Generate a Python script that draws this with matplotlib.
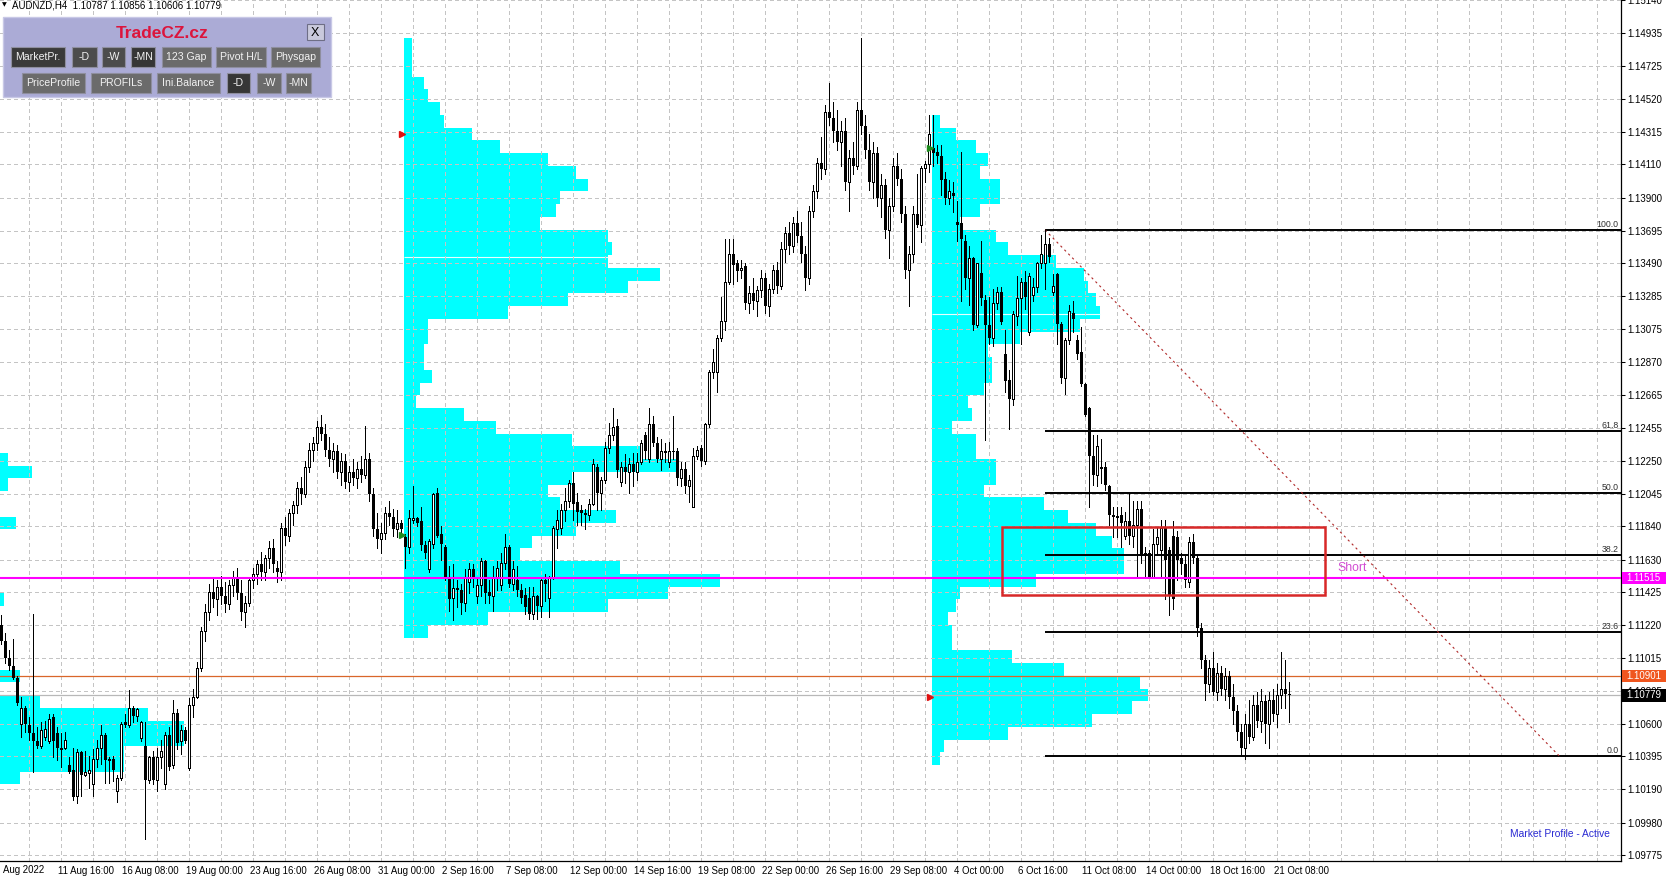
import numpy as np
import matplotlib
matplotlib.use("Agg")
import matplotlib.pyplot as plt
from matplotlib.patches import Rectangle
import matplotlib.transforms as mtransforms

plt.rcParams['font.family'] = ['Liberation Sans', 'DejaVu Sans']

# ---------------- data (prices in 1e-4 units), H4 bars, index 0 = 9 Aug 04:00 ----------------
opens = [
 11122,11112,11101,11096,11089,11060,11070,11059,11054,11049, 11046,11052,11049,11064,11054,11044,11045,11034,11031,11015,
 11042,11028,11029,11022,11038,11045,11053,11037,11038,11018, 11026,11061,11059,11070,11065,11051,11046,11025,11039,11025,
 11039,11022,11053,11034,11067,11049,11056,11032,11072,11077,
 11095,11118,11130,11143,11138,11146,11140,11135,11147,11152, 11142,11130,11136,11150,11154,11160,11155,11164,11170,11158,
 11155,11183,11178,11192,11197,11208,11204,11221,11232,11236, 11246,11242,11232,11226,11231,11218,11225,11212,11218,11214,
 11220,11216,11226,11204,11182,11176,11180,11192,11190,
 11182,11186,11177,11171,11188,11189,11187,11172,11157,11173, 11205,11179,11171,11152,11139,11145,11144,11136,11149,11157,
 11140,11147,11162,11143,11140,11152,11147,11161,11171,11148, 11150,11144,11141,11139,11129,11140,11134,11150,11139,11152,
 11182,11183,11194,11200,11211,11199,11194,11192,11191,11198, 11221,11205,11213,11233,11241,11247,11212,11221,11218,11223,
 11218,11224,11241,11226,11248,11236,11226,11231,11224,11231, 11231,11214,11220,11209,11196,11228,11233,11225,11248,11281,
 11281,11302,11313,11337,11355,11349,11345,11347,
 11324,11330,11325,11332,11340,11322,11333,11345,11335,11358, 11368,11360,11374,11366,11355,11340,11382,11394,11412,11408,
 11444,11440,11432,11425,11432,11400,11415,11410,11445,11435, 11420,11400,11418,11390,11398,11370,11385,11410,11402,11380,
 11345,11355,11380,
 11373,11409,11411,11421,11419,11416,11402,11390,11393,11375, 11374,11363,11340,11352,11310,11343,11326,11310,11302,11324,
 11331,11292,11276,11264,11316,11327,11337,11306,11329,11334, 11349,11349,11361,11331,11342,11311,11277,11301,11318,11301,
 11293,11273,11258,11228,11216,11221,11221,11209,11191,11190, 11191,11178,11187,11178,11185,11195,11167,11167,11152,11173,
 11169,11183,11169,11178,11177,11164,11160,11149,11174,11164, 11120,11100,11085,11095,11080,11092,11082,11090,11077,11068,
 11055,11045,11060,11052,11072,11062,11074,11060,11075,11066, 11078,11082,11079]
highs = [
 11128,11117,11106,11113,11090,11077,11071,11064,11129,11058, 11061,11062,11066,11066,11058,11054,11055,11039,11045,11044,
 11043,11043,11040,11044,11050,11059,11054,11039,11040,11028, 11061,11066,11081,11071,11070,11062,11061,11040,11043,11045,
 11050,11055,11058,11075,11069,11059,11058,11076,11082,11099,
 11121,11135,11148,11152,11150,11153,11149,11150,11156,11158, 11150,11140,11152,11158,11163,11168,11166,11175,11176,11162,
 11186,11190,11195,11200,11212,11215,11225,11236,11240,11250, 11254,11248,11240,11236,11235,11230,11229,11222,11226,11224,
 11228,11247,11230,11208,11192,11186,11196,11200,11195,
 11194,11188,11179,11194,11209,11190,11196,11175,11176,11205, 11208,11184,11172,11159,11160,11150,11148,11157,11161,11160,
 11152,11164,11163,11150,11159,11162,11167,11179,11172,11162, 11159,11148,11145,11146,11146,11141,11152,11154,11153,11184,
 11194,11198,11208,11213,11218,11205,11197,11195,11201,11226, 11223,11215,11237,11249,11258,11251,11224,11229,11227,11230,
 11230,11238,11243,11258,11253,11240,11239,11236,11237,11253, 11233,11224,11224,11216,11233,11234,11235,11249,11282,11295,
 11304,11328,11364,11364,11364,11351,11351,11349,
 11335,11340,11335,11345,11343,11336,11348,11350,11362,11372, 11375,11378,11382,11375,11360,11385,11398,11415,11428,11448,
 11462,11450,11445,11438,11440,11420,11425,11450,11490,11442, 11430,11425,11422,11405,11402,11390,11415,11418,11408,11385,
 11360,11385,11405,
 11410,11413,11442,11442,11423,11423,11406,11401,11400,11388, 11419,11367,11360,11353,11349,11363,11329,11328,11333,11334,
 11334,11307,11282,11319,11341,11340,11344,11343,11340,11350, 11367,11370,11365,11342,11343,11312,11302,11323,11325,11304,
 11309,11274,11259,11241,11241,11239,11224,11210,11196,11196, 11196,11193,11205,11200,11200,11200,11171,11169,11182,11183,
 11188,11188,11171,11187,11181,11167,11165,11177,11179,11166, 11123,11103,11100,11105,11098,11096,11095,11093,11085,11072,
 11060,11066,11075,11078,11080,11082,11078,11080,11082,11085, 11105,11100,11086]
lows = [
 11110,11098,11094,11088,11072,11052,11055,11050,11030,11045, 11045,11050,11048,11039,11037,11033,11044,11029,11012,11010,
 11015,11027,11020,11015,11033,11035,11023,11023,11024,11011, 11025,11058,11058,11061,11062,11049,10988,11023,11022,11018,
 11032,11019,11031,11032,11044,11041,11048,11031,11064,11076,
 11093,11112,11125,11133,11128,11135,11130,11132,11140,11138, 11125,11121,11134,11145,11148,11150,11150,11158,11155,11149,
 11150,11172,11175,11185,11192,11198,11202,11218,11225,11232, 11238,11228,11222,11218,11214,11210,11208,11206,11210,11208,
 11212,11214,11200,11178,11170,11167,11176,11185,11178,
 11177,11180,11158,11167,11186,11184,11169,11164,11155,11170, 11177,11163,11150,11131,11125,11133,11129,11131,11142,11146,
 11136,11140,11136,11136,11131,11144,11144,11157,11146,11144, 11140,11136,11129,11126,11126,11126,11127,11137,11127,11151,
 11170,11179,11187,11196,11188,11185,11185,11182,11188,11197, 11194,11194,11211,11230,11238,11215,11209,11211,11205,11209,
 11213,11223,11226,11224,11234,11224,11219,11224,11221,11226, 11210,11209,11205,11199,11196,11226,11222,11223,11246,11277,
 11268,11300,11307,11336,11336,11338,11340,11320,
 11318,11320,11316,11328,11318,11316,11330,11330,11333,11350, 11355,11356,11362,11350,11332,11336,11378,11390,11402,11405,
 11436,11425,11420,11410,11395,11382,11405,11408,11430,11415, 11395,11390,11385,11378,11365,11352,11382,11398,11375,11340,
 11322,11350,11372,
 11362,11400,11406,11410,11412,11392,11386,11386,11381,11363, 11325,11333,11323,11307,11309,11323,11238,11298,11297,11320,
 11311,11268,11245,11260,11310,11298,11320,11304,11325,11331, 11346,11333,11350,11329,11298,11274,11267,11298,11306,11289,
 11272,11253,11196,11210,11209,11211,11207,11185,11177,11177, 11171,11176,11173,11171,11153,11161,11152,11152,11152,11166,
 11152,11138,11128,11132,11150,11154,11146,11146,11161,11115, 11095,11075,11080,11078,11075,11078,11075,11070,11060,11050,
 11040,11038,11048,11050,11058,11055,11048,11045,11062,11058, 11070,11070,11061]
closes = [
 11112,11101,11096,11089,11073,11070,11060,11054,11049,11046, 11056,11057,11063,11049,11045,11045,11050,11030,11014,11042,
 11028,11030,11031,11038,11045,11053,11037,11038,11031,11026, 11060,11059,11070,11065,11069,11061,11025,11039,11025,11039,
 11043,11053,11033,11067,11048,11056,11049,11072,11077,11095,
 11118,11130,11143,11138,11146,11140,11135,11147,11152,11142, 11130,11136,11150,11154,11160,11155,11164,11170,11160,11155,
 11183,11178,11192,11197,11208,11204,11221,11232,11236,11246, 11242,11232,11226,11231,11218,11225,11212,11218,11214,11220,
 11216,11226,11204,11182,11176,11180,11192,11190,11182,
 11186,11182,11171,11189,11189,11186,11172,11167,11175,11204, 11178,11173,11152,11138,11145,11144,11136,11152,11157,11152,
 11147,11162,11142,11140,11152,11158,11161,11171,11148,11157, 11144,11139,11133,11129,11140,11134,11150,11148,11152,11183,
 11188,11194,11200,11211,11198,11193,11192,11191,11198,11223, 11205,11213,11233,11241,11246,11219,11221,11218,11223,11218,
 11224,11236,11231,11248,11236,11226,11231,11230,11231,11231, 11214,11220,11209,11213,11228,11232,11225,11248,11281,11287,
 11302,11313,11337,11355,11348,11344,11346,11324,
 11330,11325,11332,11340,11322,11333,11345,11335,11358,11368, 11360,11374,11366,11355,11340,11382,11394,11412,11408,11444,
 11440,11432,11425,11432,11400,11415,11410,11445,11435,11420, 11400,11418,11390,11398,11370,11385,11410,11402,11380,11345,
 11355,11380,11373,
 11409,11411,11430,11418,11416,11401,11390,11394,11391,11373, 11364,11340,11352,11310,11349,11327,11310,11302,11324,11331,
 11312,11275,11264,11317,11327,11337,11328,11341,11334,11349, 11355,11361,11353,11335,11311,11277,11301,11319,11314,11292,
 11273,11254,11228,11216,11234,11220,11210,11191,11190,11190, 11186,11187,11178,11185,11195,11165,11165,11152,11173,11177,
 11183,11163,11140,11138,11163,11160,11150,11174,11164,11120, 11100,11085,11095,11080,11092,11082,11090,11077,11068,11055,
 11045,11060,11052,11072,11062,11074,11060,11075,11066,11078, 11082,11079,11078]

# market profiles: anchor bar, top price of first row, counts per 0.0008 row (in bars)
prof1_anchor, prof1_top = 0, 1.1486 - 0.0008 * 32
prof1_counts = [2, 8, 2, 0, 0, 4, 0, 0, 0, 0, 0, 1, 0, 0, 0, 0, 0, 5, 0, 10, 37, 46, 46, 31, 31, 5]
prof2_anchor, prof2_top = 101, 1.1490
prof2_counts = [2, 2, 2, 5, 6, 9, 10, 17, 24, 36, 43, 46, 39, 38, 34, 51, 52, 51, 64, 56, 41, 26, 6, 6, 5, 5, 7,
                4, 3, 15, 23, 42, 59, 68, 42, 36, 39, 53, 43, 32, 29, 54, 79, 66, 51, 21, 6]
prof3_anchor, prof3_top = 233, 1.1490 - 0.0008 * 6
prof3_counts = [2, 6, 11, 14, 12, 17, 17, 12, 7, 16, 19, 31, 38, 39, 41, 42, 37, 22, 14, 15, 15, 13, 9, 10, 5,
                11, 11, 16, 16, 13, 28, 34, 41, 45, 48, 48, 26, 7, 6, 4, 5, 5, 20, 33, 52, 54, 50, 40, 19, 3, 2]
row_h = 0.0008

# price scale labels
ytick_labels = ['1.15140', '1.14935', '1.14725', '1.14520', '1.14315', '1.14110', '1.13900', '1.13695', '1.13490',
                '1.13285', '1.13075', '1.12870', '1.12665', '1.12455', '1.12250', '1.12045', '1.11840', '1.11630',
                '1.11425', '1.11220', '1.11015', '1.10805', '1.10600', '1.10395', '1.10190', '1.09980', '1.09775']
time_labels = ['11 Aug 16:00', '16 Aug 08:00', '19 Aug 00:00', '23 Aug 16:00', '26 Aug 08:00', '31 Aug 00:00',
               '2 Sep 16:00', '7 Sep 08:00', '12 Sep 00:00', '14 Sep 16:00', '19 Sep 08:00', '22 Sep 00:00',
               '26 Sep 16:00', '29 Sep 08:00', '4 Oct 00:00', '6 Oct 16:00', '11 Oct 08:00', '14 Oct 00:00',
               '18 Oct 16:00', '21 Oct 08:00']
time_label_bars = [15, 31, 47, 63, 79, 95, 111, 127, 143, 159, 175, 191, 207, 223, 239, 255, 271, 287, 303, 319]

fib_high, fib_low = 1.13699, 1.10400
fib_start_bar, fib_end_bar = 261, 389.5
fib_levels = [0.0, 23.6, 38.2, 50.0, 61.8, 100.0]
level_magenta, level_orange, level_bid = 1.11515, 1.10901, 1.10779
box_left_bar, box_right_bar, box_top, box_bottom = 250.2, 331.0, 1.11832, 1.11409

# ---------------- figure ----------------
W, H = 1666, 880
fig = plt.figure(figsize=(W / 100, H / 100), dpi=100)
fig.patch.set_facecolor('white')
ax = fig.add_axes([0, 19 / H, 1621 / W, 861 / H])
ax.set_xlim(-0.25, 405)
ax.set_ylim(1.097392, 1.151414)
ax.set_facecolor('white')

o = np.array(opens) / 1e4
h = np.array(highs) / 1e4
l = np.array(lows) / 1e4
c = np.array(closes) / 1e4
idx = np.arange(len(o))

yvals = [float(s) for s in ytick_labels]

# grid
gcol = '#C4C4C4'
for xb in range(7, 406, 8):
    ax.axvline(xb, color=gcol, lw=0.72, ls=(0, (3, 3)), zorder=2, antialiased=False)
for p in yvals:
    ax.axhline(p, color=gcol, lw=0.72, ls=(0, (3, 3)), zorder=2, antialiased=False)

# market profiles
def draw_profile(anchor, top, counts):
    counts = np.array(counts, dtype=float)
    tops = top - row_h * np.arange(len(counts))
    ax.barh(tops - row_h / 2, counts, left=anchor - 0.25, height=row_h, color='#00FFFF',
            linewidth=0, zorder=1, antialiased=False)

draw_profile(prof1_anchor, prof1_top, prof1_counts)
draw_profile(prof2_anchor, prof2_top, prof2_counts)
draw_profile(prof3_anchor, prof3_top, prof3_counts)
ax.hlines(1.13531, prof2_anchor - 0.25, 151.75, color='#E6FFFF', lw=0.8, zorder=1.5)
ax.hlines(1.13170, prof3_anchor - 0.25, 274.75, color='#E6FFFF', lw=0.8, zorder=1.5)

# markers at profile starts
ax.plot([prof2_anchor - 0.8, prof3_anchor - 0.7], [1.14299, 1.10770], ls='none', marker='>',
        ms=4, color='#E01010', zorder=9)
ax.plot([prof2_anchor - 0.8, prof3_anchor - 0.7], [1.11785, 1.14211], ls='none', marker='>',
        ms=4, color='#1E8C1E', zorder=9)

# horizontal levels
ax.axhline(level_orange, color='#D9662A', lw=0.9, zorder=3)
ax.axhline(level_bid, color='#B8B8B8', lw=0.9, zorder=3)

# fibonacci
for lv in fib_levels:
    p = fib_low + (fib_high - fib_low) * lv / 100.0
    ax.hlines(p, fib_start_bar, 405, color='black', lw=1.4, zorder=4)
    ax.text(404.4, p + 0.00005, f"{lv:.1f}", ha='right', va='bottom', fontsize=6.3,
            color='#303030', zorder=9)
ax.plot([fib_start_bar, fib_end_bar], [fib_high, fib_low], color='#B02828', lw=0.8,
        ls=(0, (2, 3)), zorder=4)

# candles: wicks, then bodies (white bodies with black outline)
ax.vlines(idx, l, h, color='black', lw=0.72, zorder=5, antialiased=False)
up = c >= o
body_bottom = np.minimum(o, c)
body_h = np.maximum(np.abs(c - o), 0.00002)
ax.bar(idx[~up], body_h[~up], bottom=body_bottom[~up], width=0.75, color='black',
       linewidth=0, zorder=6, antialiased=False)
ax.bar(idx[up], body_h[up], bottom=body_bottom[up], width=0.62, color='white',
       edgecolor='black', linewidth=0.72, zorder=6, antialiased=False)

# magenta level on top
ax.axhline(level_magenta, color='#FF00FF', lw=1.5, zorder=7)

# red box + short text
ax.add_patch(Rectangle((box_left_bar, box_bottom), box_right_bar - box_left_bar, box_top - box_bottom,
                       fill=False, edgecolor='#D82828', lw=1.8, zorder=8))
ax.text(334, 1.11578, 'Short', color='#D24CD2', fontsize=8.8, ha='left', va='center', zorder=9)

# axes styling
for s in ['top', 'left']:
    ax.spines[s].set_visible(False)
for s in ['right', 'bottom']:
    ax.spines[s].set_color('black')
    ax.spines[s].set_linewidth(0.9)
ax.set_xticks([])
ax.yaxis.tick_right()
ax.set_yticks(yvals)
ax.set_yticklabels(ytick_labels, fontsize=7)
ax.tick_params(axis='y', length=3, width=0.75, pad=1.5, colors='black')

# time labels
tb = mtransforms.blended_transform_factory(ax.transData, ax.transAxes)
tb_off = mtransforms.offset_copy(tb, fig=fig, x=-3, y=0, units='dots')
for b, lbl in zip(time_label_bars, time_labels):
    ax.text(b, -9.5 / 861, lbl, transform=tb_off, ha='left', va='center', fontsize=6.9, clip_on=False)
fig.text(3 / W, 1 - 869.5 / H, 'Aug 2022', ha='left', va='center', fontsize=6.9)

# price boxes on the right scale
bt = mtransforms.blended_transform_factory(fig.transFigure, ax.transData)
bh = 12.5 / 15938
for p, fc, txt in [(level_magenta, '#FF00FF', '1.11515'), (level_orange, '#F0561E', '1.10901'),
                   (level_bid, '#000000', '1.10779')]:
    fig.add_artist(Rectangle((1622 / W, p - bh / 2), 44 / W, bh, transform=bt, facecolor=fc,
                             edgecolor='none', zorder=10))
    fig.text(1626 / W, p, txt, transform=bt, ha='left', va='center', fontsize=7, color='white', zorder=11)

# header
def fx(x):
    return x / W

def fy(y):
    return 1 - y / H

fig.text(fx(2), fy(5), '\u25BC', fontsize=4.5, ha='left', va='center', family='DejaVu Sans')
fig.text(fx(12), fy(5), 'AUDNZD,H4  1.10787 1.10856 1.10606 1.10779', fontsize=7, ha='left', va='center')

# TradeCZ panel
fig.add_artist(Rectangle((fx(2.5), fy(97)), 328 / W, 80 / H, transform=fig.transFigure,
                         facecolor='#ABABD6', edgecolor='#C8C8E6', lw=1.0, zorder=12))
fig.text(fx(162), fy(33), 'TradeCZ.cz', ha='center', va='center', fontsize=12.5, fontweight='bold',
         color='#DC143C', zorder=13)
fig.add_artist(Rectangle((fx(306.5), fy(40.5)), 17 / W, 16 / H, transform=fig.transFigure,
                         facecolor='#C9C9DC', edgecolor='#6E6E86', lw=0.8, zorder=13))
fig.text(fx(315), fy(32.5), 'X', ha='center', va='center', fontsize=9, color='black', zorder=14)

buttons = [
    (11, 65, 47.3, 66.7, 'MarketPr.', '#3A3A3A'), (71.7, 96.7, 47.3, 66.7, '-D', '#4C4C4C'),
    (101.7, 125, 47.3, 66.7, '-W', '#4C4C4C'), (131, 155, 47.3, 66.7, '-MN', '#363636'),
    (162, 210.7, 47.3, 66.7, '123 Gap', '#6B6B6B'), (216, 265.7, 47.3, 66.7, 'Pivot H/L', '#6B6B6B'),
    (270.7, 320, 47.3, 66.7, 'Physgap', '#6B6B6B'),
    (21.7, 85, 72.7, 92.7, 'PriceProfile', '#6B6B6B'), (90.7, 150.7, 72.7, 92.7, 'PROFILs', '#6B6B6B'),
    (156.7, 220, 72.7, 92.7, 'Ini.Balance', '#6B6B6B'), (226.7, 250, 72.7, 92.7, '-D', '#363636'),
    (256.7, 281, 72.7, 92.7, '-W', '#6B6B6B'), (286, 310.7, 72.7, 92.7, '-MN', '#6B6B6B'),
]
for x0, x1, y0, y1, txt, fc in buttons:
    fig.add_artist(Rectangle((fx(x0), fy(y1)), (x1 - x0) / W, (y1 - y0) / H, transform=fig.transFigure,
                             facecolor=fc, edgecolor='#8E8E9E', lw=0.8, zorder=13))
    fig.text(fx((x0 + x1) / 2), fy((y0 + y1) / 2 + 0.5), txt, ha='center', va='center', fontsize=7.6,
             color='#F2F2F2', zorder=14)

fig.text(fx(1610), fy(834), 'Market Profile - Active', ha='right', va='center', fontsize=7.4,
         color='#2A2AD2')

fig.savefig('out.png', dpi=100)
